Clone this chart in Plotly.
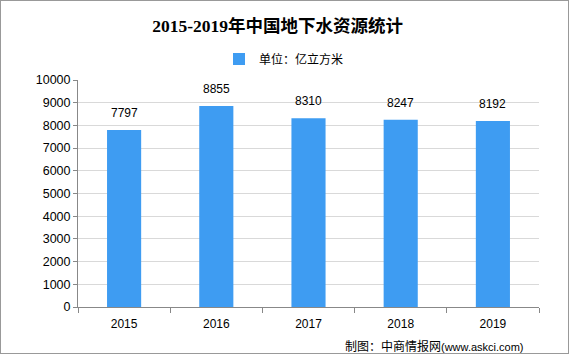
import plotly.graph_objects as go

years = ["2015", "2016", "2017", "2018", "2019"]
values = [7797, 8855, 8310, 8247, 8192]
y_ticks = list(range(0, 10001, 1000))
y_ticktext = [str(v) for v in y_ticks]

W, H = 569, 354
fig = go.Figure()
fig.add_trace(go.Bar(
    x=years, y=values, name="单位：亿立方米",
    marker=dict(color="#3E9CF2", line=dict(width=0)),
))
# value labels: category axis uses serial index positions
for i, v in enumerate(values):
    fig.add_annotation(x=i, y=v, text=str(v), showarrow=False, yanchor="bottom",
                       yshift=8, font=dict(family="Liberation Sans, Arial", size=12, color="#000"))
fig.update_layout(
    width=W, height=H,
    margin=dict(l=78, r=30, t=80, b=47, autoexpand=False),
    paper_bgcolor="white", plot_bgcolor="white",
    bargap=0.63,
    title=dict(text="<b>2015-2019年中国地下水资源统计</b>", x=0.488, xanchor="center",
               y=1 - 26 / H, yanchor="middle",
               font=dict(family="Liberation Serif, Noto Sans CJK SC", size=17.5, color="#000")),
    showlegend=True,
    legend=dict(orientation="h", x=(219 - 78) / 461, xanchor="left", y=1 + (80 - 59) / 227,
                yanchor="middle", font=dict(family="Noto Sans CJK SC", size=12, color="#000"),
                itemwidth=30),
    font=dict(family="Liberation Sans, Arial", size=12, color="#000"),
    shapes=[dict(type="rect", xref="paper", yref="paper", x0=-78 / 461, x1=1 + 30 / 461,
                 y0=-47 / 227, y1=1 + 80 / 227, line=dict(color="#999", width=2))],
)
fig.update_xaxes(type="category", range=[-0.5, len(years) - 0.5], showline=True,
                 linecolor="#888", ticks="outside",
                 tickson="boundaries", ticklen=5, tickcolor="#888", showgrid=False,
                 ticklabelstandoff=6,
                 tickfont=dict(family="Liberation Sans, Arial", size=12, color="#000"))
fig.update_yaxes(range=[0, 10000], tickvals=y_ticks, ticktext=y_ticktext, showline=True,
                 linecolor="#888", ticks="outside", ticklen=4, tickcolor="#888",
                 gridcolor="#d9d9d9",
                 tickfont=dict(family="Liberation Sans, Arial", size=12.5, color="#000"))
fig.add_annotation(text="制图：中商情报网<span style='font-family:Liberation Sans;font-size:11px'>(www.askci.com)</span>",
                   xref="paper", yref="paper", x=(526 - 78) / 461, y=-(345 - 307) / 227,
                   xanchor="right", yanchor="middle", showarrow=False,
                   font=dict(family="Noto Sans CJK SC", size=12, color="#000"))
fig.write_html("out.html")
